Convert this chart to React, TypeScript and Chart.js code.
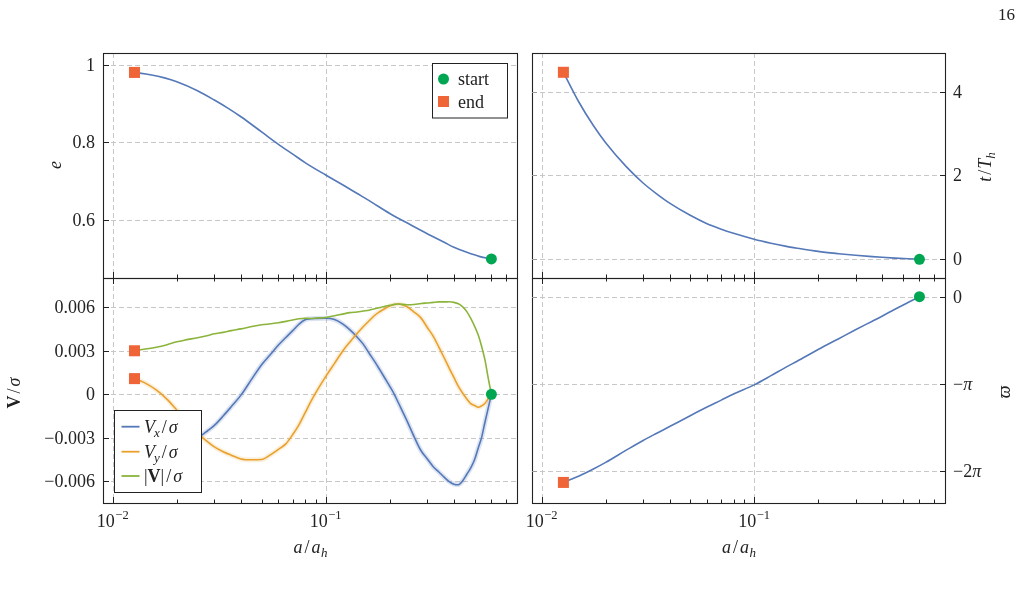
import React, { useEffect, useRef } from "react";
import { Chart, registerables } from "chart.js";

Chart.register(...registerables);

// ---------------- data ----------------
const aTop = [0.01265, 0.015, 0.0175, 0.02, 0.025, 0.03, 0.035, 0.04, 0.05, 0.06, 0.07, 0.08, 0.1, 0.12, 0.14, 0.16, 0.2, 0.25, 0.3, 0.36, 0.4, 0.46, 0.53, 0.6];
const eccentricity = [0.98, 0.974, 0.966, 0.956, 0.933, 0.909, 0.887, 0.866, 0.827, 0.795, 0.77, 0.748, 0.716, 0.691, 0.669, 0.65, 0.617, 0.588, 0.565, 0.543, 0.53, 0.517, 0.506, 0.5];
const timeOverTh = [4.46, 3.74, 3.19, 2.78, 2.21, 1.82, 1.55, 1.34, 1.05, 0.85, 0.72, 0.62, 0.48, 0.385, 0.315, 0.265, 0.19, 0.135, 0.096, 0.064, 0.048, 0.03, 0.014, 0];
const varpiValues = [-6.68, -6.45, -6.2, -5.96, -5.52, -5.17, -4.9, -4.67, -4.28, -3.97, -3.72, -3.5, -3.17, -2.84, -2.55, -2.31, -1.9, -1.51, -1.19, -0.88, -0.7, -0.45, -0.21, 0];

const aVel = [0.01265, 0.014, 0.016, 0.018, 0.02, 0.022, 0.025, 0.028, 0.03, 0.033, 0.036, 0.04, 0.045, 0.05, 0.055, 0.06, 0.065, 0.07, 0.075, 0.08, 0.085, 0.09, 0.1, 0.11, 0.12, 0.13, 0.14, 0.15, 0.16, 0.17, 0.18, 0.19, 0.2, 0.21, 0.22, 0.24, 0.26, 0.28, 0.3, 0.32, 0.34, 0.36, 0.38, 0.4, 0.42, 0.44, 0.46, 0.48, 0.5, 0.52, 0.54, 0.56, 0.58, 0.6];
const vxOverSigma = [-0.0028, -0.00295, -0.0031, -0.00322, -0.0033, -0.00325, -0.003, -0.0025, -0.00215, -0.0015, -0.00086, -0.00006, 0.00106, 0.00204, 0.00274, 0.0034, 0.00392, 0.00439, 0.00484, 0.00514, 0.00521, 0.00523, 0.00524, 0.00515, 0.00485, 0.00444, 0.00397, 0.00346, 0.00283, 0.00225, 0.00166, 0.00109, 0.00055, 0.0, -0.00062, -0.00178, -0.00292, -0.00388, -0.00446, -0.005, -0.00536, -0.00572, -0.00602, -0.0062, -0.00624, -0.00597, -0.00552, -0.00508, -0.00452, -0.00372, -0.00297, -0.00191, -0.00094, 0];
const vyOverSigma = [0.00108, 0.00082, 0.0003, -0.00035, -0.0011, -0.0018, -0.00268, -0.0033, -0.00363, -0.00396, -0.0042, -0.00446, -0.00452, -0.0045, -0.00418, -0.0038, -0.00342, -0.00278, -0.00209, -0.00129, -0.00053, 0.00013, 0.00122, 0.00213, 0.00297, 0.00361, 0.00417, 0.00466, 0.00507, 0.00545, 0.00571, 0.00592, 0.00609, 0.00619, 0.00623, 0.00605, 0.00567, 0.00527, 0.00461, 0.004, 0.00325, 0.00252, 0.00181, 0.00116, 0.00054, 0.00007, -0.00032, -0.00064, -0.00077, -0.0009, -0.0008, -0.00062, -0.0003, 0];
const vMagOverSigma = [0.003, 0.0031, 0.00324, 0.00342, 0.00362, 0.00375, 0.0039, 0.00406, 0.00417, 0.00427, 0.00439, 0.00451, 0.00467, 0.00479, 0.00486, 0.00493, 0.00503, 0.00512, 0.00521, 0.00524, 0.00523, 0.00526, 0.0053, 0.00542, 0.00553, 0.00563, 0.00568, 0.00574, 0.0058, 0.0059, 0.00599, 0.00607, 0.00613, 0.0062, 0.00623, 0.00617, 0.00619, 0.00626, 0.0063, 0.00634, 0.00637, 0.00637, 0.00638, 0.00634, 0.00624, 0.00603, 0.0057, 0.00523, 0.0047, 0.0041, 0.0033, 0.00235, 0.0011, 0];

const xTickValues = [0.01, 0.1, 1];
const xTickExponents = ["−2", "−1", "0"];
const xMinorTickValues = [0.02, 0.03, 0.04, 0.05, 0.06, 0.07, 0.08, 0.09, 0.2, 0.3, 0.4, 0.5, 0.6, 0.7, 0.8];
const eTicks = [0.6, 0.8, 1];
const eTickLabels = ["0.6", "0.8", "1"];
const tTicks = [0, 2, 4];
const tTickLabels = ["0", "2", "4"];
const vTicks = [-0.006, -0.003, 0, 0.003, 0.006];
const vTickLabels = ["−0.006", "−0.003", "0", "0.003", "0.006"];
const varpiTicks = [-2 * Math.PI, -Math.PI, 0];
const varpiTickLabels = ["−2π", "−π", "0"];
const markerLegendLabels = ["start", "end"];
const pageNumber = "16";

// ---------------- styling ----------------
const W = 1022;
const H = 594;
const SERIF = '"Liberation Serif", "DejaVu Serif", serif';
const FS = 18;
const BLUE = "#5478b8";
const ORANGE = "#e9a12c";
const GREEN = "#8bb43b";
const START = "#00a651";
const END = "#ef6538";
const GRID = "#c8c8c8";
const INK = "#222222";
const X_MIN = 0.009;
const X_MAX = 0.8;

type Run = { t: string; s?: string; size?: number; dy?: number; dx?: number };

function fontOf(r: Run) {
  const size = r.size ?? FS;
  const st = r.s ?? "n";
  const pre = st === "i" ? "italic " : st === "b" ? "bold " : st === "bi" ? "italic bold " : "";
  return `${pre}${size}px ${SERIF}`;
}

function runsWidth(ctx: CanvasRenderingContext2D, runs: Run[]) {
  let w = 0;
  for (const r of runs) {
    ctx.font = fontOf(r);
    w += ctx.measureText(r.t).width + (r.dx ?? 0);
  }
  return w;
}

function drawRuns(ctx: CanvasRenderingContext2D, runs: Run[], x: number, y: number, align: string) {
  const w = runsWidth(ctx, runs);
  let cx = align === "left" ? x : align === "center" ? x - w / 2 : x - w;
  ctx.textAlign = "left";
  ctx.textBaseline = "alphabetic";
  for (const r of runs) {
    ctx.font = fontOf(r);
    cx += r.dx ?? 0;
    ctx.fillText(r.t, cx, y + (r.dy ?? 0));
    cx += ctx.measureText(r.t).width;
  }
}

function drawRotated(ctx: CanvasRenderingContext2D, runs: Run[], cx: number, cy: number, off: number) {
  ctx.save();
  ctx.translate(cx, cy);
  ctx.rotate(-Math.PI / 2);
  drawRuns(ctx, runs, 0, off, "center");
  ctx.restore();
}

function labelRuns(s: string): Run[] {
  if (s.includes("π")) {
    const parts = s.split("π");
    return [{ t: parts[0] }, { t: "π", s: "i" }];
  }
  return [{ t: s }];
}

type Panel = {
  id: string;
  L: number; R: number; T: number; B: number;
  yTicks: number[];
  yTickLabels: string[];
  ySide: string;
  showXLabels: boolean;
  xTicksTop: boolean;
  yTitle: Run[];
  yTitlePos: number[];
  extra?: (ctx: CanvasRenderingContext2D) => void;
};

function panelPlugin(p: Panel) {
  return {
    id: "panel_" + p.id,
    beforeDatasetsDraw(chart: any) {
      const { ctx, chartArea: ca, scales } = chart;
      const xs = scales.x;
      const ys = scales.y;
      ctx.save();
      ctx.strokeStyle = GRID;
      ctx.lineWidth = 1;
      ctx.setLineDash([5, 3]);
      for (const v of xTickValues) {
        const px = Math.round(xs.getPixelForValue(v)) + 0.5;
        if (px <= ca.left + 1 || px >= ca.right - 1) continue;
        ctx.beginPath();
        ctx.moveTo(px, ca.top);
        ctx.lineTo(px, ca.bottom);
        ctx.stroke();
      }
      for (const v of p.yTicks) {
        const py = Math.round(ys.getPixelForValue(v)) + 0.5;
        ctx.beginPath();
        ctx.moveTo(ca.left, py);
        ctx.lineTo(ca.right, py);
        ctx.stroke();
      }
      ctx.restore();
    },
    afterDatasetsDraw(chart: any) {
      const { ctx, chartArea: ca, scales } = chart;
      const xs = scales.x;
      const ys = scales.y;
      ctx.save();
      ctx.setLineDash([]);
      // frame
      ctx.strokeStyle = INK;
      ctx.lineWidth = 1.1;
      ctx.strokeRect(ca.left + 0.5, ca.top + 0.5, ca.right - ca.left - 1, ca.bottom - ca.top);
      // x ticks
      const xt = (v: number, len: number) => {
        const px = Math.round(xs.getPixelForValue(v)) + 0.5;
        if (px <= ca.left + 1 || px >= ca.right - 1) return;
        ctx.beginPath();
        ctx.moveTo(px, ca.bottom);
        ctx.lineTo(px, ca.bottom - len);
        if (p.xTicksTop) {
          ctx.moveTo(px, ca.top);
          ctx.lineTo(px, ca.top + len);
        }
        ctx.stroke();
      };
      ctx.lineWidth = 1;
      ctx.strokeStyle = INK;
      for (const v of xTickValues) xt(v, 6);
      for (const v of xMinorTickValues) xt(v, 3.5);
      // y ticks
      for (const v of p.yTicks) {
        const py = Math.round(ys.getPixelForValue(v)) + 0.5;
        ctx.strokeStyle = INK;
        ctx.beginPath();
        if (p.ySide === "left") {
          ctx.moveTo(ca.left, py);
          ctx.lineTo(ca.left + 6, py);
        } else {
          ctx.moveTo(ca.right, py);
          ctx.lineTo(ca.right - 6, py);
        }
        ctx.stroke();
        if (p.ySide === "right") {
          ctx.strokeStyle = "#9a9a9a";
          ctx.beginPath();
          ctx.moveTo(ca.left, py);
          ctx.lineTo(ca.left + 5, py);
          ctx.stroke();
        }
      }
      // y tick labels
      ctx.fillStyle = INK;
      p.yTicks.forEach((v, i) => {
        const py = ys.getPixelForValue(v);
        const runs = labelRuns(p.yTickLabels[i]);
        if (p.ySide === "left") drawRuns(ctx, runs, ca.left - 8, py + 6, "right");
        else drawRuns(ctx, runs, ca.right + 7, py + 6, "left");
      });
      // x tick labels and title
      if (p.showXLabels) {
        xTickValues.forEach((v, i) => {
          const px = xs.getPixelForValue(v);
          if (px < ca.left - 1 || px > ca.right + 1) return;
          drawRuns(ctx, [{ t: "10" }, { t: xTickExponents[i], size: 12.5, dy: -8, dx: 0.5 }], px, 527, "center");
        });
        drawRuns(
          ctx,
          [
            { t: "a", s: "i" },
            { t: "/", dx: 2 },
            { t: "a", s: "i", dx: 2 },
            { t: "h", s: "i", size: 13, dy: 4, dx: 0.5 },
          ],
          (ca.left + ca.right) / 2,
          553,
          "center"
        );
      }
      // y title
      drawRotated(ctx, p.yTitle, p.yTitlePos[0], p.yTitlePos[1], 5);
      if (p.extra) p.extra(ctx);
      ctx.restore();
    },
  };
}

const pts = (xs: number[], ys: number[]) => xs.map((x, i) => ({ x, y: ys[i] }));

function lineDs(label: string, xs: number[], ys: number[], color: string, width = 1.6) {
  return {
    label,
    data: pts(xs, ys),
    borderColor: color,
    backgroundColor: color,
    borderWidth: width,
    pointRadius: 0,
    fill: false,
    cubicInterpolationMode: "monotone",
  };
}

function markerDs(label: string, x: number, y: number, style: string, color: string, r: number) {
  return {
    label,
    data: [{ x, y }],
    showLine: false,
    pointStyle: style,
    pointRadius: r,
    pointBorderWidth: 0,
    pointBackgroundColor: color,
    pointBorderColor: color,
    borderColor: color,
    backgroundColor: color,
  };
}

function drawMarkerLegend(ctx: CanvasRenderingContext2D) {
  ctx.save();
  ctx.fillStyle = "#ffffff";
  ctx.strokeStyle = INK;
  ctx.lineWidth = 1;
  ctx.fillRect(432.5, 63.5, 75, 54.5);
  ctx.strokeRect(432.5, 63.5, 75, 54.5);
  ctx.fillStyle = START;
  ctx.beginPath();
  ctx.arc(443.5, 79, 5.5, 0, Math.PI * 2);
  ctx.fill();
  ctx.fillStyle = END;
  ctx.fillRect(438, 96, 11, 11);
  ctx.fillStyle = INK;
  drawRuns(ctx, [{ t: markerLegendLabels[0] }], 458, 84.5, "left");
  drawRuns(ctx, [{ t: markerLegendLabels[1] }], 458, 107.5, "left");
  // page number
  drawRuns(ctx, [{ t: pageNumber, size: 17 }], 1015, 20, "right");
  ctx.restore();
}

function drawVelocityLegend(ctx: CanvasRenderingContext2D) {
  ctx.save();
  ctx.fillStyle = "#ffffff";
  ctx.strokeStyle = INK;
  ctx.lineWidth = 1;
  ctx.fillRect(114.5, 410.5, 87, 82);
  ctx.strokeRect(114.5, 410.5, 87, 82);
  const rows: [string, number, Run[]][] = [
    [BLUE, 426.7, [{ t: "V", s: "i" }, { t: "x", s: "i", size: 13, dy: 4, dx: -1 }, { t: "/", dx: 2 }, { t: "σ", s: "i", dx: 2 }]],
    [ORANGE, 451.7, [{ t: "V", s: "i" }, { t: "y", s: "i", size: 13, dy: 4, dx: -1 }, { t: "/", dx: 2 }, { t: "σ", s: "i", dx: 2 }]],
    [GREEN, 476, [{ t: "|" }, { t: "V", s: "b" }, { t: "|" }, { t: "/", dx: 2 }, { t: "σ", s: "i", dx: 2 }]],
  ];
  for (const [c, y, runs] of rows) {
    ctx.strokeStyle = c;
    ctx.lineWidth = 1.8;
    ctx.beginPath();
    ctx.moveTo(121.5, y);
    ctx.lineTo(139.5, y);
    ctx.stroke();
    ctx.fillStyle = INK;
    drawRuns(ctx, runs, 144, y + 6, "left");
  }
  ctx.restore();
}

const panels: Record<string, Panel> = {
  tl: {
    id: "tl", L: 103, R: 518, T: 53, B: 278,
    yTicks: eTicks, yTickLabels: eTickLabels, ySide: "left",
    showXLabels: false, xTicksTop: false,
    yTitle: [{ t: "e", s: "i" }], yTitlePos: [56, 165],
    extra: drawMarkerLegend,
  },
  bl: {
    id: "bl", L: 103, R: 518, T: 278, B: 503,
    yTicks: vTicks, yTickLabels: vTickLabels, ySide: "left",
    showXLabels: true, xTicksTop: true,
    yTitle: [{ t: "V", s: "b" }, { t: "/", dx: 2 }, { t: "σ", s: "i", dx: 2 }], yTitlePos: [15, 393],
    extra: drawVelocityLegend,
  },
  tr: {
    id: "tr", L: 532, R: 946, T: 53, B: 278,
    yTicks: tTicks, yTickLabels: tTickLabels, ySide: "right",
    showXLabels: false, xTicksTop: false,
    yTitle: [{ t: "t", s: "i" }, { t: "/", dx: 2 }, { t: "T", s: "i", dx: 1 }, { t: "h", s: "i", size: 13, dy: 4 }], yTitlePos: [986, 167],
  },
  br: {
    id: "br", L: 532, R: 946, T: 278, B: 503,
    yTicks: varpiTicks, yTickLabels: varpiTickLabels, ySide: "right",
    showXLabels: true, xTicksTop: true,
    yTitle: [{ t: "ϖ", s: "i" }], yTitlePos: [1005, 392],
  },
};

function makeChart(canvas: HTMLCanvasElement, datasets: any[], yMin: number, yMax: number, p: Panel) {
  return new Chart(canvas, {
    type: "line",
    data: { datasets },
    options: {
      animation: false,
      responsive: false,
      events: [],
      layout: {
        padding: { left: p.L, top: p.T, right: W - p.R, bottom: H - p.B },
        autoPadding: false,
      },
      scales: {
        x: { type: "logarithmic", min: X_MIN, max: X_MAX, display: false },
        y: { type: "linear", min: yMin, max: yMax, display: false },
      },
      plugins: { legend: { display: false }, tooltip: { enabled: false } },
    },
    plugins: [panelPlugin(p)],
  } as any);
}

export default function App() {
  const tlRef = useRef<HTMLCanvasElement>(null);
  const blRef = useRef<HTMLCanvasElement>(null);
  const trRef = useRef<HTMLCanvasElement>(null);
  const brRef = useRef<HTMLCanvasElement>(null);

  useEffect(() => {
    const last = aTop.length - 1;
    const lastV = aVel.length - 1;
    const charts = [
      makeChart(
        tlRef.current!,
        [
          markerDs("end", aTop[0], eccentricity[0], "rect", END, 7.8),
          markerDs("start", aTop[last], eccentricity[last], "circle", START, 5.5),
          lineDs("e", aTop, eccentricity, BLUE),
        ],
        0.451, 1.03, panels.tl
      ),
      makeChart(
        blRef.current!,
        [
          markerDs("start", aVel[lastV], vMagOverSigma[lastV], "circle", START, 5.5),
          markerDs("end |V|", aVel[0], vMagOverSigma[0], "rect", END, 7.8),
          markerDs("end Vy", aVel[0], vyOverSigma[0], "rect", END, 7.8),
          markerDs("end Vx", aVel[0], vxOverSigma[0], "rect", END, 7.8),
          lineDs("|V|/σ", aVel, vMagOverSigma, GREEN),
          lineDs("Vy/σ", aVel, vyOverSigma, ORANGE),
          lineDs("Vx/σ", aVel, vxOverSigma, BLUE),
          lineDs("Vy band", aVel, vyOverSigma, "rgba(233,161,44,0.16)", 5),
          lineDs("Vx band", aVel, vxOverSigma, "rgba(84,120,184,0.2)", 5),
        ],
        -0.0075, 0.00802, panels.bl
      ),
      makeChart(
        trRef.current!,
        [
          markerDs("end", aTop[0], timeOverTh[0], "rect", END, 7.8),
          markerDs("start", aTop[last], timeOverTh[last], "circle", START, 5.5),
          lineDs("t", aTop, timeOverTh, BLUE),
        ],
        -0.445, 4.92, panels.tr
      ),
      makeChart(
        brRef.current!,
        [
          markerDs("end", aTop[0], varpiValues[0], "rect", END, 7.8),
          markerDs("start", aTop[last], varpiValues[last], "circle", START, 5.5),
          lineDs("varpi", aTop, varpiValues, BLUE),
        ],
        -7.42, 0.673, panels.br
      ),
    ];
    return () => charts.forEach((c) => c.destroy());
  }, []);

  const cs: React.CSSProperties = { position: "absolute", left: 0, top: 0, width: W, height: H };
  return (
    <div style={{ position: "absolute", left: 0, top: 0, width: W, height: H, background: "#ffffff" }}>
      <canvas ref={tlRef} width={W} height={H} style={cs} />
      <canvas ref={trRef} width={W} height={H} style={cs} />
      <canvas ref={blRef} width={W} height={H} style={cs} />
      <canvas ref={brRef} width={W} height={H} style={cs} />
    </div>
  );
}
